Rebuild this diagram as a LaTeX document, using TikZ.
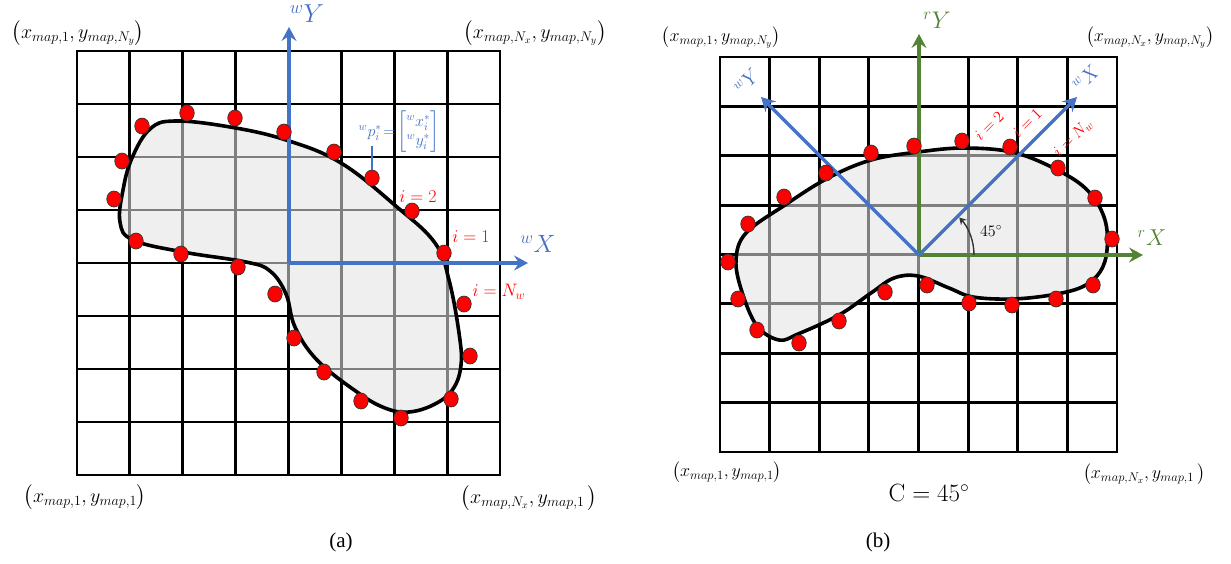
\documentclass[tikz,border=0pt]{standalone}
\usepackage{fix-cm}
\usepackage{amsmath}
\usepackage{fontspec}
\newfontfamily\capfont{Liberation Serif}
\usetikzlibrary{arrows.meta,shapes.geometric,calc}
\definecolor{axblue}{HTML}{4472C4}
\definecolor{axgreen}{HTML}{548235}
\definecolor{ptred}{HTML}{FF0000}
\begin{document}
\begin{tikzpicture}[x=1pt,y=-1pt,
  gridln/.style={line width=2.8pt,black,line cap=rect},
  blob/.style={line width=3.6pt,black,fill=black!11,fill opacity=0.56,line join=round},
  axisln/.style={line width=3.4pt,line cap=butt,-{Stealth[length=14pt,width=15pt,inset=5pt]}},
  dot/.style={ellipse,draw=black!80,line width=0.7pt,fill=ptred,minimum width=14.5pt,minimum height=16pt,inner sep=0pt},
  corner/.style={font=\fontsize{20}{24}\selectfont,inner sep=0pt},
  cornerr/.style={font=\fontsize{18}{22}\selectfont,inner sep=0pt},
  axlab/.style={font=\fontsize{26}{30}\selectfont,inner sep=0pt},
  idx/.style={text=ptred,font=\fontsize{18}{21}\selectfont,inner sep=0pt},
  captxt/.style={font=\capfont\fontsize{21}{24}\selectfont,inner sep=0pt}]
\useasboundingbox (0,0) rectangle (1231,563);
% ---------------- left panel ----------------
\foreach \i in {0,...,8} {
  \draw[gridln] ({77+52.875*\i},51) -- ({77+52.875*\i},475);
  \draw[gridln] (77,{51+53*\i}) -- (500,{51+53*\i});
}
\draw[blob] plot[smooth cycle,tension=0.65] coordinates {
 (175,121) (230,127) (286,140) (341,163) (397,207) (435,243) (449,280) (459,333)
 (461,365) (453,389) (435,404) (409,412) (385,408) (357,392) (317,360) (295,327)
 (286,294) (270,271) (246,262) (183,252) (133,240) (120,222) (123,190) (132,158) (150,129)};
\coordinate (LO) at (289,263);
\coordinate (LYt) at (289,27);
\coordinate (LXt) at (528,263);
\draw[axisln,axblue] (LO) -- (LYt);
\draw[axisln,axblue] (LO) -- (LXt);
\foreach \n/\p in {a1/{187,113},a2/{142,126},a3/{235,118},a4/{284,132},a5/{334,152},
  a6/{372,178},a7/{412,211},a8/{444,253},a9/{122,161},a10/{114,199},a11/{136,241},
  a12/{181,254},a13/{238,267},a14/{275,294},a15/{464,304},a16/{294,338},a17/{470,356},
  a18/{324,372},a19/{361,401},a20/{451,399},a21/{401,418}}
  \node[dot] (\n) at (\p) {};
\node[axlab,text=axblue] (lwy) at (307,14) {${}^{w}Y$};
\node[axlab,text=axblue,font=\fontsize{25}{30}\selectfont] (lwx) at (538,244) {${}^{w}X$};
\node[text=axblue,font=\fontsize{16}{19}\selectfont,inner sep=0pt] (plab) at (399,132)
  {${}^{w}p_i^{*}\!=\!\begin{bmatrix}{}^{w}x_i^{*}\\ {}^{w}y_i^{*}\end{bmatrix}$};
\coordinate (ptick) at (372,146);
\draw[axblue,line width=1.6pt] (a6.north) -- (ptick);
\node[idx] (li2) at (418,197) {$i=2$};
\node[idx] (li1) at (471,237) {$i=1$};
\node[idx] (liN) at (499,292) {$i=N_w$};
\node[corner] (ltl) at (78,33) {$\bigl(x_{map,1},y_{map,N_y}\bigr)$};
\node[corner] (ltr) at (535,33) {$\bigl(x_{map,N_x},y_{map,N_y}\bigr)$};
\node[corner] (lbl) at (85,497) {$\bigl(x_{map,1},y_{map,1}\bigr)$};
\node[corner] (lbr) at (529,498) {$\bigl(x_{map,N_x},y_{map,1}\,\bigr)$};
\node[captxt] (capa) at (341,542) {(a)};
% ---------------- right panel ----------------
\foreach \i in {0,...,8} {
  \draw[gridln] ({720+49.625*\i},57) -- ({720+49.625*\i},452);
  \draw[gridln] (720,{57+49.375*\i}) -- (1117,{57+49.375*\i});
}
\draw[blob] plot[smooth cycle,tension=0.6] coordinates {
 (746,233) (785,205) (828,178) (871,160) (918,152) (965,148) (1016,153) (1063,173)
 (1090,193) (1105,220) (1107,250) (1100,272) (1082,287) (1051,295) (1012,299)
 (973,297) (949,288) (918,276) (894,278) (871,293) (839,315) (798,334)
 (779,340) (757,326) (742,292) (736,260)};
\coordinate (RO) at (919,255);
\draw[axisln,axgreen] (RO) -- (919,34) coordinate (RYt);
\draw[axisln,axgreen] (RO) -- (1143,255) coordinate (RXt);
\coordinate (RWX) at (1077,97);
\coordinate (RWY) at (761,97);
\draw[axisln,axblue] (RO) -- (RWX);
\draw[axisln,axblue] (RO) -- (RWY);
\draw[black!80,line width=1.4pt,-{Stealth[length=7pt,width=8pt,inset=2.5pt]}]
  ($(RO)+(55,0)$) arc[start angle=0,end angle=43,radius=55pt];
\node[inner sep=0pt,font=\fontsize{16}{19}\selectfont] (ang) at (991,231) {$45^{\circ}$};
\foreach \n/\p in {b1/{962,141},b2/{914,146},b3/{871,153},b4/{826,173},b5/{784,197},
  b6/{748,224},b7/{728,262},b8/{1010,147},b9/{1058,168},b10/{1095,198},b11/{1112,239},
  b12/{738,299},b13/{757,330},b14/{799,343},b15/{839,321},b16/{885,292},b17/{927,285},
  b18/{969,303},b19/{1012,305},b20/{1056,299},b21/{1093,285}}
  \node[dot] (\n) at (\p) {};
\node[axlab,text=axgreen,font=\fontsize{24}{28}\selectfont] (ryl) at (937,20) {${}^{r}Y$};
\node[axlab,text=axgreen,font=\fontsize{23}{28}\selectfont] (rxl) at (1152,238) {${}^{r}X$};
\node[axlab,text=axblue,rotate=45,font=\fontsize{20}{24}\selectfont] (rwyl) at (747,81) {${}^{w}Y$};
\node[axlab,text=axblue,rotate=45,font=\fontsize{20}{24}\selectfont] (rwxl) at (1086,78) {${}^{w}X$};
\node[idx,rotate=45,font=\fontsize{16}{19}\selectfont] (ri2) at (989,126) {$i=2$};
\node[idx,rotate=45,font=\fontsize{16}{19}\selectfont] (ri1) at (1027,123) {$i=1$};
\node[idx,rotate=45,font=\fontsize{16}{19}\selectfont] (riN) at (1073,138) {$i=N_w$};
\node[cornerr] (rtl) at (721,37) {$\bigl(x_{map,1},y_{map,N_y}\bigr)$};
\node[cornerr] (rtr) at (1150,37) {$\bigl(x_{map,N_x},y_{map,N_y}\bigr)$};
\node[cornerr] (rbl) at (727,472) {$\bigl(x_{map,1},y_{map,1}\bigr)$};
\node[cornerr] (rbr) at (1144,474) {$\bigl(x_{map,N_x},y_{map,1}\,\bigr)$};
\node[inner sep=0pt,font=\fontsize{25}{30}\selectfont] (cang) at (929,493) {$\mathrm{C}=45^{\circ}$};
\node[captxt] (capb) at (878,542) {(b)};
\end{tikzpicture}
\end{document}
